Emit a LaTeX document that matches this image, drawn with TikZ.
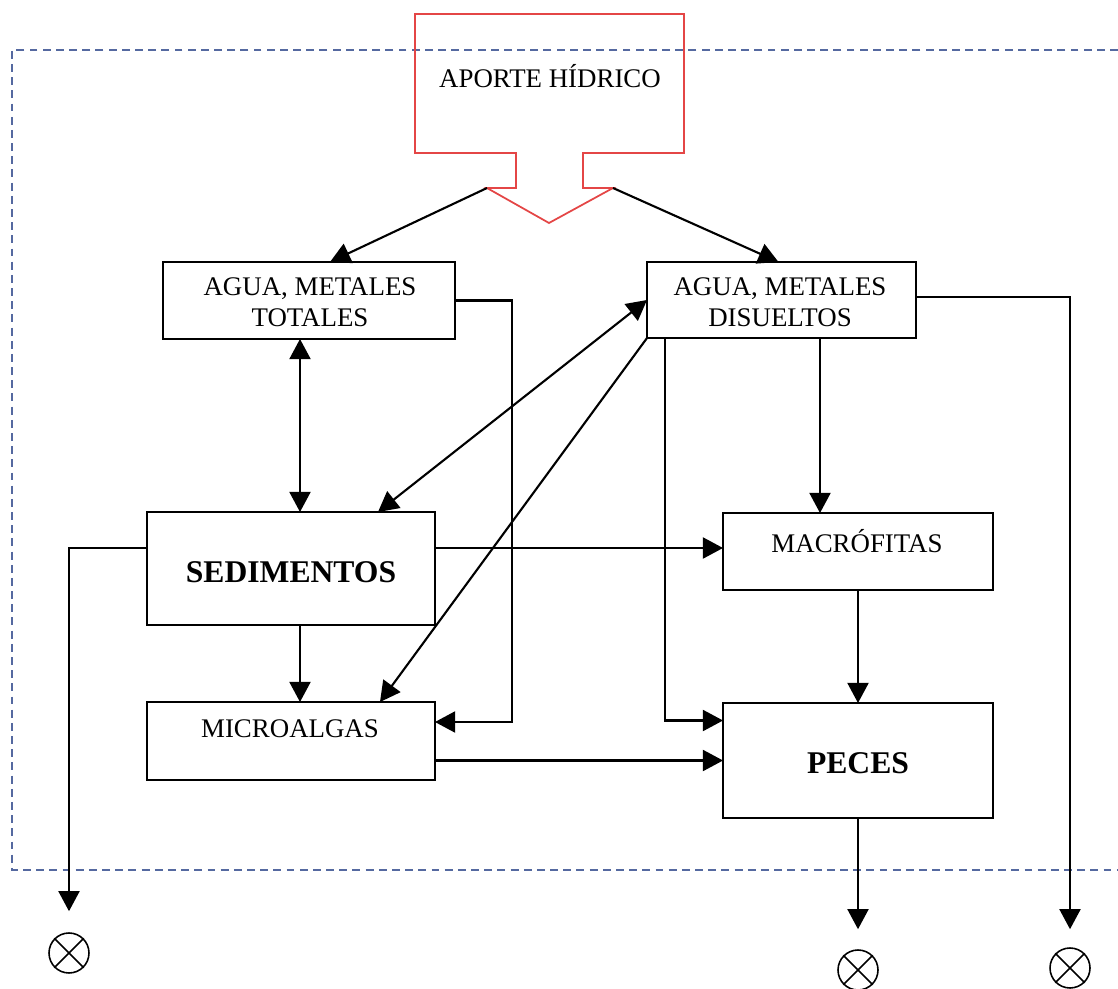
\documentclass[tikz,border=0pt]{standalone}
\usepackage{fontspec}
\setmainfont{Liberation Serif}
\usetikzlibrary{arrows.meta,calc}
\definecolor{dashblue}{RGB}{85,105,160}
\definecolor{aportered}{RGB}{228,70,70}
\begin{document}
\begin{tikzpicture}[x=0.02cm,y=-0.02cm,
  box/.style={draw,line width=0.9pt,inner sep=0pt,outer sep=0pt},
  lbl/.style={font=\fontsize{15.3}{17.5}\selectfont,align=center,inner sep=0pt},
  big/.style={font=\fontsize{18}{21}\selectfont\bfseries,inner sep=0pt},
  arr/.style={line width=1.2pt,-{Triangle[length=11.5pt,width=12pt]}},
  darr/.style={line width=1.2pt,{Triangle[length=11.5pt,width=12pt]}-{Triangle[length=11.5pt,width=12pt]}},
  sink/.style={draw,circle,line width=0.9pt,minimum size=0.8cm,inner sep=0pt}]
\useasboundingbox (0,0) rectangle (1118,989);
% dashed boundary
\draw[dashblue,line width=0.8pt,dash pattern=on 4.5pt off 3pt] (1118,50) -- (12,50) -- (12,870) -- (1118,870);
% aporte
\draw[aportered,line width=1pt,line join=miter] (415,14) -- (684,14) -- (684,153) -- (583,153) -- (583,188) -- (613,188) coordinate (apR) -- (549,223) -- (487,188) coordinate (apL) -- (516,188) -- (516,153) -- (415,153) -- cycle;
\node[lbl] (aporte) at (550,76) {APORTE HÍDRICO};
% boxes
\node[box,minimum width=5.84cm,minimum height=1.54cm] (tot) at (309,300.5) {};
\node[lbl] (ttot) at (310,302) {AGUA, METALES\\TOTALES};
\node[box,minimum width=5.38cm,minimum height=1.52cm] (dis) at (781.5,300) {};
\node[lbl] (tdis) at (780,302) {AGUA, METALES\\DISUELTOS};
\node[box,minimum width=5.76cm,minimum height=2.26cm] (sed) at (291,568.5) {};
\node[big] (tsed) at (291,572) {SEDIMENTOS};
\node[box,minimum width=5.76cm,minimum height=1.56cm] (mic) at (291,741) {};
\node[lbl] (tmic) at (290,729) {MICROALGAS};
\node[box,minimum width=5.4cm,minimum height=1.54cm] (mac) at (858,551.5) {};
\node[lbl] (tmac) at (857,541) {MACRÓFITAS};
\node[box,minimum width=5.4cm,minimum height=2.3cm] (pec) at (858,760.5) {};
\node[big] (tpec) at (858,763) {PECES};
% sinks
\node[sink] (s1) at (69,953) {};
\node[sink] (s2) at (858,970) {};
\node[sink] (s3) at (1070,968) {};
\foreach \s in {s1,s2,s3}{
  \draw[line width=0.9pt] (\s.north east) -- (\s.south west) (\s.north west) -- (\s.south east);
}
% connectors
\draw[arr] (apL) -- ($(tot.north)+(21,0)$);
\draw[arr] (apR) -- ($(dis.north)+(-3,0)$);
\draw[arr] (tot.east) -- ++(57,0) |- ($(mic.east)+(0,-19)$);
\draw[darr] ($(tot.south)+(-9,0)$) -- ($(sed.north)+(9,0)$);
\draw[darr] ($(sed.north)+(87,0)$) -- (dis.west);
\draw[arr] (dis.south west) -- ($(mic.north)+(89,0)$);
\draw[arr] ($(dis.south west)+(18,0)$) |- ($(pec.west)+(0,-40)$);
\draw[arr] ($(dis.south)+(38.5,0)$) coordinate (dm) -- (dm |- mac.north);
\draw[arr] ($(dis.east)+(0,-3)$) -| ($(s3.north)+(0,-18)$);
\draw[arr] ($(sed.west)+(0,-20.5)$) -| ($(s1.north)+(0,-21)$);
\draw[arr] ($(sed.east)+(0,-20.5)$) coordinate (se) -- (se -| mac.west);
\draw[arr] ($(sed.south)+(9,0)$) -- ($(mic.north)+(9,0)$);
\draw[arr] (mic.east |- pec.west) -- (pec.west);
\draw[arr] (mac.south) -- (pec.north);
\draw[arr] (pec.south) -- ($(s2.north)+(0,-20)$);
\end{tikzpicture}
\end{document}
